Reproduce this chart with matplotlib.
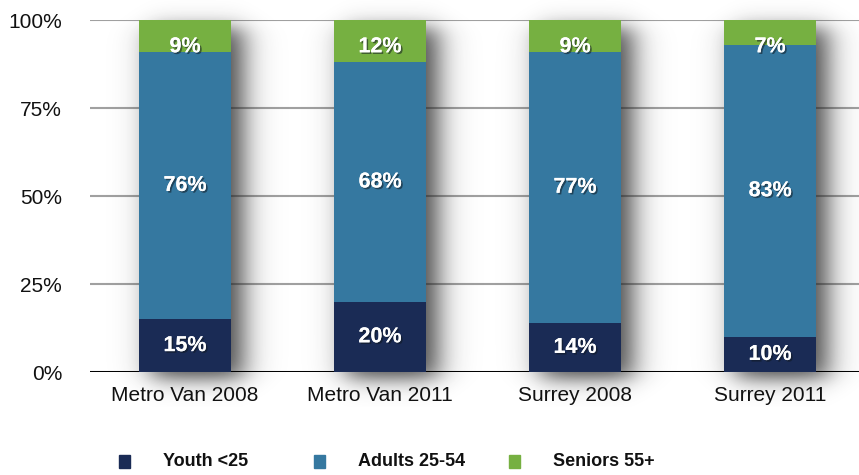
import matplotlib
matplotlib.use("Agg")
import matplotlib.pyplot as plt
import matplotlib.patheffects as pe
import numpy as np

categories = ["Metro Van 2008", "Metro Van 2011", "Surrey 2008", "Surrey 2011"]
youth = [15, 20, 14, 10]
adults = [76, 68, 77, 83]
seniors = [9, 12, 9, 7]
series_names = ["Youth <25", "Adults 25-54", "Seniors 55+"]
colors = ["#1a2b55", "#3578a0", "#76b041"]
yticks = [0, 25, 50, 75, 100]

plt.rcParams['font.family'] = ['Liberation Sans', 'DejaVu Sans']

fig = plt.figure(figsize=(8.59, 4.75), dpi=100)
ax = fig.add_axes([0.1048, 0.2168, 0.8952, 0.741])

x = np.arange(len(categories))
w = 0.47
xlim = (-0.487, 3.456)
ylim = (0, 100)

# gridlines
for t in yticks[1:]:
    ax.axhline(t, color="#a0a0a0", lw=1.5, zorder=0)

# soft blurred shadows (image layer)
tot = np.array(youth) + np.array(adults) + np.array(seniors)
px_per_x = 195.0
px_per_y = 3.52
ext = (xlim[0], xlim[1], -10, 107)
nx, ny = 800, 420
gx = np.linspace(ext[0], ext[1], nx)
gy = np.linspace(ext[3], ext[2], ny)
GX, GY = np.meshgrid(gx, gy)
def sig(z):
    return 1.0 / (1.0 + np.exp(-z))
alpha = np.zeros_like(GX)
for xi, tp in zip(x, tot):
    l = xi - w / 2 + 12 / px_per_x
    r = xi + w / 2 + 12 / px_per_x
    sx = 8.5 / px_per_x
    ax_ = sig((GX - l) / sx) * sig((r - GX) / sx)
    b = -2.0
    t = tp - 2.5
    sy = 6.0 / px_per_y
    ay_ = sig((GY - b) / sy) * sig((t - GY) / sy)
    alpha = np.maximum(alpha, 0.85 * ax_ * ay_)
img = np.zeros((ny, nx, 4))
img[..., 0:3] = 0.14
img[..., 3] = alpha
im = ax.imshow(img, extent=ext, aspect="auto", zorder=1, interpolation="bilinear")
im.set_clip_on(False)

ax.axhline(0, color="black", lw=2.2, zorder=2)

bottoms = np.zeros(len(categories))
for si, (vals, col) in enumerate(zip([youth, adults, seniors], colors)):
    ax.bar(x, vals, width=w, bottom=bottoms, color=col, zorder=3, linewidth=0)
    for xi, b, v in zip(x, bottoms, vals):
        yc = b + v / 2
        if si == 2:
            yc = min(yc, b + v - 7.6)
        ax.text(xi, yc, f"{v}%", ha="center", va="center", color="white",
                fontsize=15.5, fontweight="bold", zorder=4,
                path_effects=[pe.withSimplePatchShadow(offset=(1.2, -1.2), shadow_rgbFace="#101820", alpha=0.55), pe.Normal()])
    bottoms = bottoms + np.array(vals)

ax.set_xlim(*xlim)
ax.set_ylim(*ylim)
ax.set_yticks(yticks)
ax.set_yticklabels([f"{t}%" for t in yticks], fontsize=15, color="#111111")
ax.set_xticks(x)
ax.set_xticklabels(categories, fontsize=15, color="#111111")
ax.tick_params(axis="y", length=0, pad=20)
ax.tick_params(axis="x", length=0, pad=10)
for s in ax.spines.values():
    s.set_visible(False)

# legend
leg_box_x = [119 / 859, 314 / 859, 509 / 859]
for lx, name, col in zip(leg_box_x, series_names, colors):
    fig.patches.append(plt.Rectangle((lx, 0.0147), 11 / 859, 13 / 475, color=col,
                                     transform=fig.transFigure, figure=fig))
    fig.text(lx + 44 / 859, 0.028, name, fontsize=13, fontweight="bold", va="center",
             color="#111111")

fig.savefig("out.png", dpi=100)
